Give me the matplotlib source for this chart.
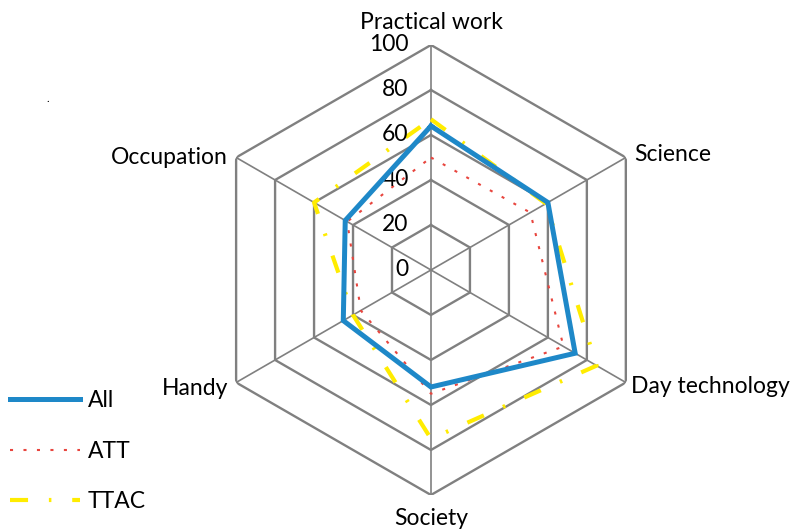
import numpy as np
import matplotlib
matplotlib.use("Agg")
import matplotlib.pyplot as plt

categories = ["Practical work", "Science", "Day technology", "Society", "Handy", "Occupation"]
all_vals = [64, 60, 74, 52, 45, 44]
att_vals = [50, 51, 68, 55, 36, 43]
ttac_vals = [67, 59, 85, 75, 40, 60]
rings = [0, 20, 40, 60, 80, 100]

plt.rcParams["font.family"] = ["Lato", "DejaVu Sans"]

fig = plt.figure(figsize=(8.03, 5.31), dpi=100)
ax = fig.add_axes([0.2565, 0.0678, 0.5604, 0.8475], projection="polar")
ax.set_theta_offset(np.pi / 2)
ax.set_theta_direction(-1)
ax.set_ylim(0, 100)
ax.grid(False)
ax.spines["polar"].set_visible(False)
ax.set_xticks([])
ax.set_yticks([])

n = len(categories)
theta = np.arange(n) * 2 * np.pi / n
closed = np.append(theta, theta[0])

grid_col = "#808080"
# hexagon rings and spokes
for r in rings[1:]:
    ax.plot(closed, [r] * (n + 1), color=grid_col, lw=1.7, zorder=1)
for t in theta:
    ax.plot([t, t], [0, 100], color=grid_col, lw=1.2, zorder=1)

def close(v):
    return list(v) + [v[0]]

ax.plot(closed, close(all_vals), color="#1e88c8", lw=3.6, label="All", zorder=4,
        solid_joinstyle="miter")
lw_att = 1.5
ax.plot(closed, close(att_vals), color="#e8453e", lw=lw_att, label="ATT", zorder=3,
        linestyle=(0, (2.2 / lw_att, 7.5 / lw_att)), dash_capstyle="butt")
lw_tt = 3.0
ax.plot(closed, close(ttac_vals), color="#ffec00", lw=lw_tt, label="TTAC", zorder=2,
        linestyle=(0, (13 / lw_tt, 15 / lw_tt, 1.8 / lw_tt, 15 / lw_tt)), dash_capstyle="butt")

fs = 16.5
# radial tick labels
for r in rings:
    ax.annotate(str(r), xy=(0, r), xytext=(-16, 0), textcoords="offset points",
                ha="right", va="center", fontsize=fs, color="black")

offsets = [(0, 16, "center"), (6, 2, "left"), (4, -3, "left"),
           (0, -17, "center"), (-6, -4, "right"), (-6, 0, "right")]
for t, lab, (dx, dy, ha) in zip(theta, categories, offsets):
    ax.annotate(lab, xy=(t, 100), xytext=(dx, dy), textcoords="offset points",
                ha=ha, va="center", fontsize=fs, color="black")

fig.legend(loc="upper left", bbox_to_anchor=(0.012, 0.266), frameon=False,
           fontsize=fs, handlelength=3.05, handletextpad=0.35, labelspacing=1.3,
           borderpad=0, borderaxespad=0)

fig.text(0.058, 0.808, ".", fontsize=8, color="black")

fig.savefig("out.png", dpi=100)
